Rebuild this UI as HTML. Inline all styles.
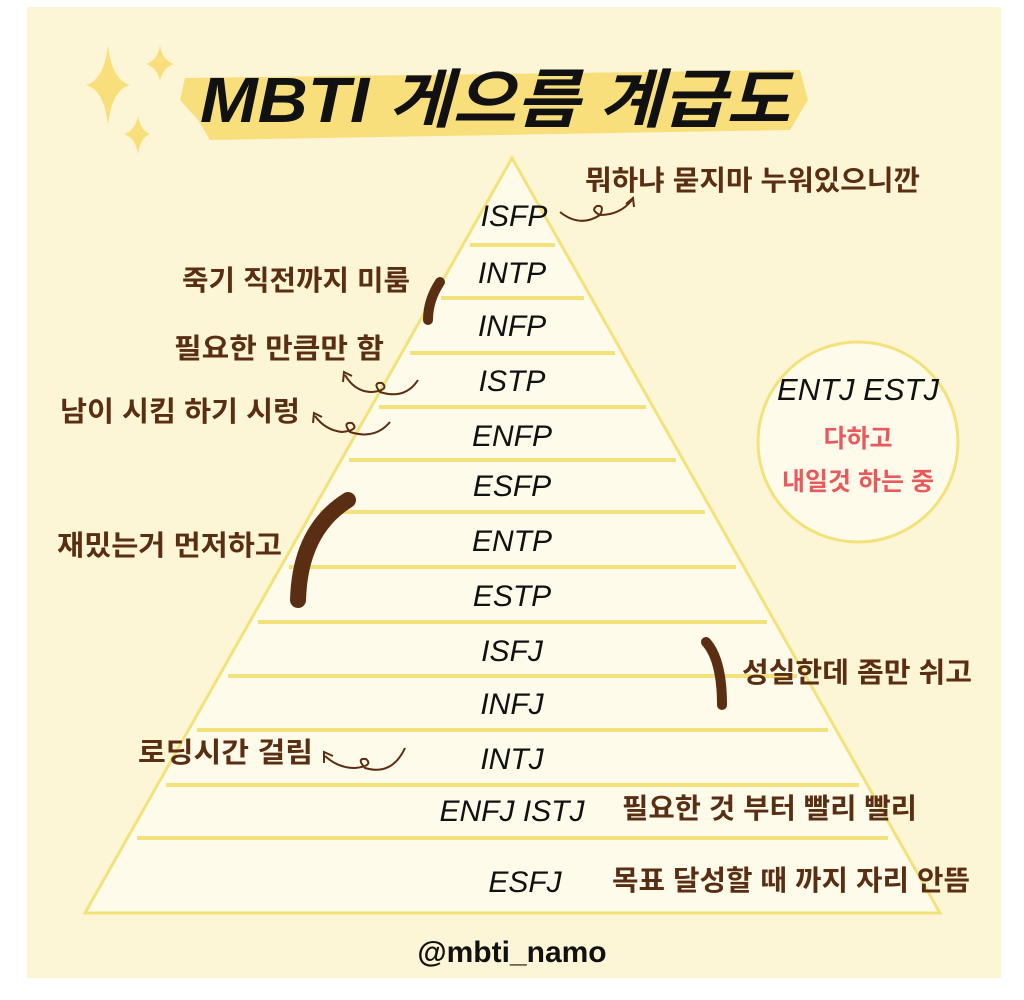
<!DOCTYPE html>
<html><head><meta charset="utf-8">
<style>
html,body{margin:0;padding:0;background:#fff;}
body{width:1024px;height:995px;overflow:hidden;}
svg text{font-family:"Liberation Sans","Noto Sans CJK KR",sans-serif;}
.m{font-style:italic;font-size:30px;fill:#111;text-anchor:middle;}
.k{font-size:28px;fill:#5a2e12;font-weight:bold;font-family:"Liberation Sans","Noto Sans CJK KR",sans-serif;}
</style></head><body>
<svg width="1024" height="995" viewBox="0 0 1024 995" xmlns="http://www.w3.org/2000/svg">
<rect x="27" y="7" width="974" height="971" fill="#fdf6d6"/>
<path d="M185 78 L800 70 L808 100 L790 130 L210 140 L198 120 L180 100 Z" fill="#f9df7c"/>
<g fill="#f9df7c">
<path d="M108 45 Q112 80 130 85 Q112 90 108 125 Q104 90 86 85 Q104 80 108 45Z"/>
<path d="M160 45 Q162 60 174 64 Q162 68 160 82 Q158 68 146 64 Q158 60 160 45Z"/>
<path d="M138 115 Q140 130 150 134 Q140 138 138 155 Q136 138 124 134 Q136 130 138 115Z"/>
</g>
<text x="495" y="122" text-anchor="middle" textLength="590" lengthAdjust="spacingAndGlyphs" style="font-size:64px;font-weight:bold;font-style:italic;fill:#111;font-family:'Liberation Sans','Noto Sans CJK KR',sans-serif">MBTI 게으름 계급도</text>
<polygon points="512,158 85,913 940,913" fill="#fffbeb" stroke="#f3e27a" stroke-width="3"/>
<g stroke="#f3e27a" stroke-width="4">
<line x1="470" y1="245" x2="555" y2="245"/>
<line x1="441" y1="298" x2="584" y2="298"/>
<line x1="410" y1="353" x2="615" y2="353"/>
<line x1="379" y1="407" x2="646" y2="407"/>
<line x1="349" y1="460" x2="676" y2="460"/>
<line x1="320" y1="512" x2="705" y2="512"/>
<line x1="289" y1="567" x2="736" y2="567"/>
<line x1="258" y1="622" x2="767" y2="622"/>
<line x1="228" y1="676" x2="797" y2="676"/>
<line x1="197" y1="730" x2="828" y2="730"/>
<line x1="166" y1="785" x2="859" y2="785"/>
<line x1="137" y1="838" x2="888" y2="838"/>
</g>
<circle cx="858" cy="442" r="100" fill="#fffbeb" stroke="#f3e27a" stroke-width="3"/>
<text x="858" y="400" class="m" style="font-size:31px">ENTJ ESTJ</text>
<text x="858" y="447" text-anchor="middle" style="font-size:25px;font-weight:bold;fill:#e85a5c">다하고</text>
<text x="858" y="490" text-anchor="middle" style="font-size:25px;font-weight:bold;fill:#e85a5c">내일것 하는 중</text>
<text x="514" y="226" class="m">ISFP</text>
<text x="512" y="283" class="m">INTP</text>
<text x="512" y="336" class="m">INFP</text>
<text x="512" y="391" class="m">ISTP</text>
<text x="512" y="446" class="m">ENFP</text>
<text x="512" y="496" class="m">ESFP</text>
<text x="512" y="551" class="m">ENTP</text>
<text x="512" y="606" class="m">ESTP</text>
<text x="512" y="661" class="m">ISFJ</text>
<text x="512" y="714" class="m">INFJ</text>
<text x="512" y="769" class="m">INTJ</text>
<text x="512" y="821" class="m">ENFJ ISTJ</text>
<text x="525" y="892" class="m">ESFJ</text>
<text x="585" y="190" class="k" textLength="335" lengthAdjust="spacingAndGlyphs">뭐하냐 묻지마 누워있으니깐</text>
<text x="182" y="290" class="k" textLength="228" lengthAdjust="spacingAndGlyphs">죽기 직전까지 미룸</text>
<text x="174" y="358" class="k" textLength="210" lengthAdjust="spacingAndGlyphs">필요한 만큼만 함</text>
<text x="60" y="421" class="k" textLength="240" lengthAdjust="spacingAndGlyphs">남이 시킴 하기 시렁</text>
<text x="57" y="555" class="k" textLength="225" lengthAdjust="spacingAndGlyphs">재밌는거 먼저하고</text>
<text x="742" y="682" class="k" textLength="230" lengthAdjust="spacingAndGlyphs">성실한데 좀만 쉬고</text>
<text x="138" y="762" class="k" textLength="175" lengthAdjust="spacingAndGlyphs">로딩시간 걸림</text>
<text x="622" y="818" class="k" textLength="295" lengthAdjust="spacingAndGlyphs">필요한 것 부터 빨리 빨리</text>
<text x="612" y="890" class="k" textLength="358" lengthAdjust="spacingAndGlyphs">목표 달성할 때 까지 자리 안뜸</text>
<text x="512" y="962" text-anchor="middle" style="font-size:30px;font-weight:bold;fill:#111">@mbti_namo</text>
<g stroke="#5a2e12" stroke-linecap="round" fill="none">
<path d="M440 282 Q428 300 428 320" stroke-width="10"/>
<path d="M348 500 Q300 530 298 600" stroke-width="16"/>
<path d="M706 642 Q722 660 722 705" stroke-width="10"/>
</g>
<g stroke="#5a2e12" stroke-width="2" fill="none">
<path d="M560 212 Q580 228 600 215 Q605 205 597 206 Q590 210 600 215 Q620 215 632 200"/>
<path d="M626 204 L633 198 L634 207"/>
<path d="M418 380 Q405 400 380 392 Q372 382 382 383 Q390 390 372 392 Q355 392 345 375"/>
<path d="M343 382 L344 372 L352 376"/>
<path d="M390 422 Q375 440 350 432 Q342 422 352 423 Q360 430 342 432 Q325 430 315 416"/>
<path d="M313 423 L314 413 L322 417"/>
<path d="M405 748 Q392 776 365 768 Q356 758 366 759 Q374 766 355 768 Q338 768 325 756"/>
<path d="M324 763 L324 752 L333 756"/>
</g>
</svg>
</body></html>
